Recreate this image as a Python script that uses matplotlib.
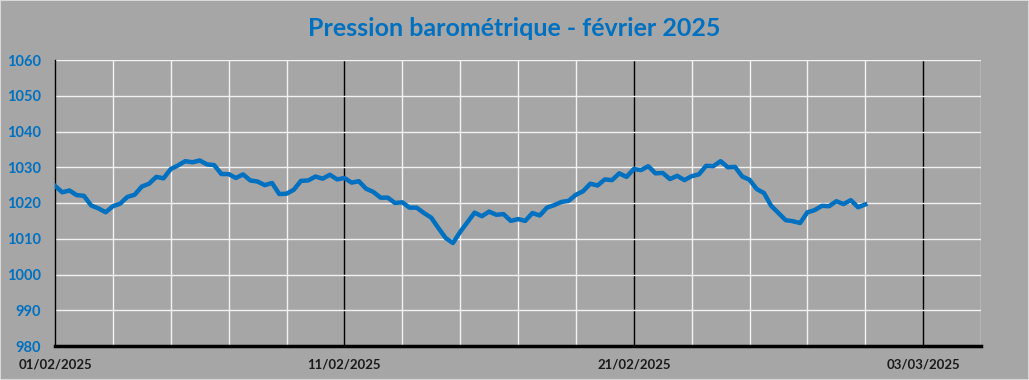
import numpy as np
import pandas as pd
import matplotlib
matplotlib.use("Agg")
import matplotlib.pyplot as plt
import matplotlib.dates as mdates
from matplotlib.ticker import MultipleLocator, FuncFormatter
from matplotlib.patches import Rectangle

# Pressure readings, every 6 hours from 01/02/2025 00:00 (hPa)
start = "2025-02-01"
step = "6h"
pressure = [
    1024.8, 1023.0, 1023.5, 1022.2, 1022.0, 1019.3, 1018.5, 1017.4, 1019.1, 1019.8,
    1021.7, 1022.3, 1024.6, 1025.4, 1027.3, 1026.9, 1029.5, 1030.5, 1031.7, 1031.4,
    1031.9, 1030.8, 1030.6, 1028.1, 1028.1, 1027.0, 1028.0, 1026.3, 1026.0, 1025.0,
    1025.6, 1022.5, 1022.6, 1023.7, 1026.2, 1026.3, 1027.4, 1026.8, 1027.9, 1026.6,
    1027.0, 1025.7, 1026.1, 1024.0, 1023.1, 1021.5, 1021.5, 1020.0, 1020.2, 1018.7,
    1018.7, 1017.2, 1015.9, 1013.0, 1010.2, 1008.8, 1011.9, 1014.6, 1017.3, 1016.3,
    1017.6, 1016.7, 1016.9, 1015.0, 1015.5, 1015.0, 1017.2, 1016.5, 1018.7, 1019.4,
    1020.3, 1020.6, 1022.3, 1023.3, 1025.4, 1024.9, 1026.6, 1026.4, 1028.3, 1027.3,
    1029.5, 1029.2, 1030.3, 1028.3, 1028.4, 1026.7, 1027.6, 1026.4, 1027.5, 1028.0,
    1030.4, 1030.3, 1031.7, 1030.0, 1030.1, 1027.4, 1026.5, 1023.9, 1022.8, 1019.2,
    1017.2, 1015.2, 1014.9, 1014.4, 1017.4, 1018.0, 1019.2, 1019.1, 1020.5, 1019.7,
    1020.8, 1018.8, 1019.6,
]
x_labels = ["2025-02-01", "2025-02-11", "2025-02-21", "2025-03-03"]
x_end = "2025-03-05"
y_min, y_max, y_step = 980, 1060, 10

title = "Pression barométrique - février 2025"
blue = "#0070C0"
bg = "#A6A6A6"

times = pd.date_range(start=start, periods=len(pressure), freq=step)
xnum = mdates.date2num(times.to_pydatetime())
major = [mdates.date2num(pd.Timestamp(d).to_pydatetime()) for d in x_labels]
x0 = major[0]
x1 = mdates.date2num(pd.Timestamp(x_end).to_pydatetime())

plt.rcParams['font.family'] = ['Lato', 'DejaVu Sans']

fig = plt.figure(figsize=(10.29, 3.8), dpi=100)
fig.patch.set_facecolor(bg)
ax = fig.add_axes([55 / 1029, 34 / 380, 926 / 1029, 286 / 380])
ax.set_facecolor(bg)

# grid: white every 2 days / 10 hPa, black every 10 days
minor = np.arange(x0, x1 + 0.01, 2)
for v in minor:
    if not any(abs(v - m) < 1e-6 for m in major):
        ax.axvline(v, color="#F2F2F2", lw=1.0, zorder=1)
for v in major[1:]:
    ax.axvline(v, color="black", lw=1.0, zorder=1)
for yv in range(y_min + y_step, y_max + 1, y_step):
    ax.axhline(yv, color="#F2F2F2", lw=1.0, zorder=1)

ax.plot(xnum, pressure, color=blue, lw=3.2, solid_joinstyle="round", zorder=3)

ax.set_xlim(x0, x1)
ax.set_ylim(y_min, y_max)
ax.set_xticks(major)
ax.set_xticklabels([pd.Timestamp(d).strftime("%d/%m/%Y") for d in x_labels],
                   fontsize=9.5, fontweight="bold", color="#1a1a1a")
ax.yaxis.set_major_locator(MultipleLocator(y_step))
ax.yaxis.set_major_formatter(FuncFormatter(lambda v, p: f"{v:.0f}"))
for lab in ax.get_yticklabels():
    lab.set_fontsize(10.5)
    lab.set_fontweight("bold")
    lab.set_color(blue)
ax.tick_params(axis="both", length=0)
ax.tick_params(axis="y", pad=10)
ax.tick_params(axis="x", pad=9)

for s in ["top", "right"]:
    ax.spines[s].set_visible(False)
ax.spines["left"].set_color("black")
ax.spines["left"].set_linewidth(1.0)
ax.spines["bottom"].set_color("black")
ax.spines["bottom"].set_linewidth(2.5)

fig.text(0.5, 1 - 28 / 380, title, ha="center", va="center",
         fontsize=18, fontweight="bold", color=blue)

fig.patches.append(Rectangle((0, 0), 1, 1, transform=fig.transFigure,
                             fill=False, edgecolor="#D9D9D9", lw=1.5))

fig.savefig("out.png", dpi=100, facecolor=bg)
